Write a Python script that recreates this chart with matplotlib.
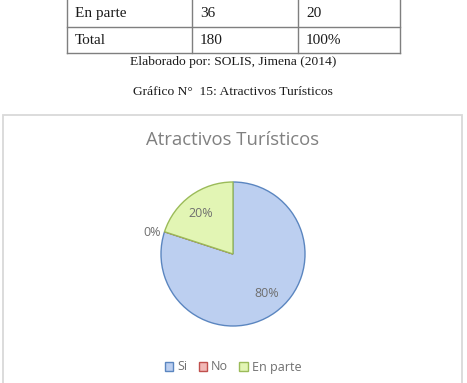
import matplotlib
matplotlib.use("Agg")
import matplotlib.pyplot as plt
from matplotlib.patches import Rectangle, Patch
from matplotlib.lines import Line2D
import numpy as np

# Data
categories = ["Si", "No", "En parte"]
values = [80, 0, 20]
table_rows = [["En parte", "36", "20"], ["Total", "180", "100%"]]
caption = "Elaborado por: SOLIS, Jimena (2014)"
fig_title = "Gráfico N°  15: Atractivos Turísticos"
chart_title = "Atractivos Turísticos"

fills = ["#bccff0", "#f2b8b6", "#e2f5b4"]
edges = ["#5b86c0", "#c0504d", "#9bbb59"]

W, H = 467, 383
fig = plt.figure(figsize=(W / 100, H / 100), dpi=100)
fig.patch.set_facecolor("white")

def fx(x):
    return x / W

def fy(y):
    return 1 - y / H

# Table fragment at top
col_x = [67, 192, 298, 400]
row_y = [-2, 27, 53]
for y in row_y:
    fig.add_artist(Line2D([fx(col_x[0]), fx(col_x[-1])], [fy(y), fy(y)], color="#7f7f7f", lw=1.0))
for x in col_x:
    fig.add_artist(Line2D([fx(x), fx(x)], [fy(row_y[0]), fy(row_y[-1])], color="#7f7f7f", lw=1.0))
for r, row in enumerate(table_rows):
    yc = (row_y[r] + row_y[r + 1]) / 2 + 1
    for c, txt in enumerate(row):
        fig.text(fx(col_x[c] + 8), fy(yc), txt, family="Liberation Serif", fontsize=11,
                 color="#1a1a1a", ha="left", va="center")

fig.text(fx(233), fy(62), caption, family="Liberation Serif", fontsize=9.7,
         color="#1a1a1a", ha="center", va="center")
fig.text(fx(233), fy(92), fig_title, family="Liberation Serif", fontsize=9.7,
         color="#1a1a1a", ha="center", va="center")

# Chart frame
frame = Rectangle((fx(2.5), fy(395)), fx(459), (395 - 115) / H, transform=fig.transFigure,
                  facecolor="white", edgecolor="#d9d9d9", lw=1.3, zorder=-5)
fig.add_artist(frame)

fig.text(fx(233), fy(140), chart_title, family="Open Sans", fontsize=13.3,
         color="#808080", ha="center", va="center")

# Pie
cx, cy, R = 233, 254, 72
ax = fig.add_axes([fx(cx - R), (H - cy - R) / H, 2 * R / W, 2 * R / H])
ax.set_zorder(5)
ax.patch.set_alpha(0)
wedges, texts, autotexts = ax.pie(
    values, startangle=90, counterclock=False, colors=fills,
    autopct="%1.0f%%", pctdistance=0.72, radius=1.0,
    wedgeprops=dict(linewidth=1.0),
    textprops=dict(color="#6f6f6f", fontsize=9, family="Open Sans"))
for w, ec in zip(wedges, edges):
    w.set_edgecolor(ec)
for w, v, t in zip(wedges, values, autotexts):
    ang = np.deg2rad((w.theta1 + w.theta2) / 2)
    if v == 0:
        a = ang + np.deg2rad(3)
        t.set_position((1.16 * np.cos(a), 1.16 * np.sin(a)))
    elif v < 50:
        a = ang + np.deg2rad(2)
        t.set_position((0.72 * np.cos(a), 0.72 * np.sin(a)))
    else:
        a = ang + np.deg2rad(5)
        t.set_position((0.72 * np.cos(a), 0.72 * np.sin(a)))
ax.set_xlim(-1, 1)
ax.set_ylim(-1, 1)
ax.set_aspect("equal")
ax.axis("off")

# Legend
handles = [Patch(facecolor=f, edgecolor=e, lw=1.0, label=c) for f, e, c in zip(fills, edges, categories)]
leg = fig.legend(handles=handles, loc="center", bbox_to_anchor=(fx(233), fy(367)), ncol=3,
                 frameon=False, handlelength=0.7, handleheight=0.7,
                 handletextpad=0.3, columnspacing=0.9,
                 prop=dict(family="Open Sans", size=9), labelcolor="#6f6f6f")
leg.set_zorder(6)

fig.savefig("out.png", dpi=100, facecolor="white")
